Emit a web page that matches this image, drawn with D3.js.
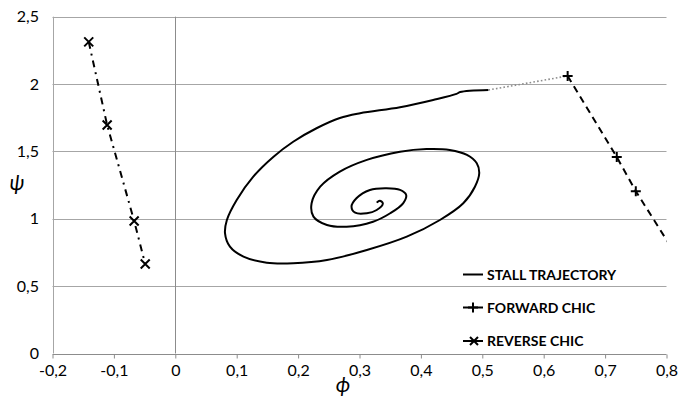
<!DOCTYPE html>
<html>
<head>
<meta charset="utf-8">
<script src="https://cdn.jsdelivr.net/npm/d3@7"></script>
<style>
  html, body { margin: 0; padding: 0; background: #fff; }
  svg { display: block; }
  text { font-family: Lato, "Open Sans", sans-serif; fill: #000; }
</style>
</head>
<body>
<svg id="chart" width="694" height="399"></svg>
<script>
// Stall trajectory in the (phi, psi) plane, spiralling into the equilibrium point
const stallPhi = [0.510, 0.464, 0.458, 0.420, 0.366, 0.301, 0.268, 0.230, 0.192, 0.160,
  0.127, 0.100, 0.084, 0.081, 0.089, 0.111, 0.149, 0.192, 0.247, 0.312,
  0.377, 0.431, 0.469, 0.488, 0.495, 0.491, 0.475, 0.447, 0.409, 0.366,
  0.312, 0.268, 0.236, 0.222, 0.225, 0.247, 0.279, 0.322, 0.350, 0.371,
  0.376, 0.366, 0.344, 0.317, 0.295, 0.287, 0.293, 0.312, 0.328, 0.338,
  0.333, 0.328];
const stallPsi = [1.956, 1.941, 1.927, 1.882, 1.828, 1.783, 1.748, 1.672, 1.572, 1.461,
  1.313, 1.140, 0.991, 0.892, 0.793, 0.719, 0.674, 0.670, 0.694, 0.768,
  0.867, 0.991, 1.115, 1.238, 1.338, 1.412, 1.474, 1.511, 1.518, 1.498,
  1.437, 1.350, 1.238, 1.115, 1.016, 0.954, 0.941, 0.978, 1.041, 1.115,
  1.177, 1.214, 1.226, 1.214, 1.152, 1.090, 1.045, 1.041, 1.065, 1.115,
  1.134, 1.120];

// Forward characteristic (last point lies past the axis end and is clipped)
const fwdPhi = [0.639, 0.719, 0.750, 0.815];
const fwdPsi = [2.060, 1.458, 1.205, 0.735];
const fwdMarked = [true, true, true, false];

// Reverse characteristic
const revPhi = [-0.141, -0.111, -0.067, -0.049];
const revPsi = [2.313, 1.696, 0.984, 0.664];

// Axis ticks
const xTicks = [-0.2, -0.1, 0, 0.1, 0.2, 0.3, 0.4, 0.5, 0.6, 0.7, 0.8];
const yTicks = [0, 0.5, 1, 1.5, 2, 2.5];

const legendLabels = ["STALL TRAJECTORY", "FORWARD CHIC", "REVERSE CHIC"];

const svg = d3.select("#chart");
const x = d3.scaleLinear().domain([-0.2, 0.8]).range([52.5, 666.5]);
const y = d3.scaleLinear().domain([0, 2.5]).range([353.5, 16.7]);
const fmt = v => String(v).replace(".", ",");

svg.append("defs").append("clipPath").attr("id", "plot")
  .append("rect").attr("x", x(-0.2)).attr("y", y(2.5) - 10)
  .attr("width", x(0.8) - x(-0.2)).attr("height", y(0) - y(2.5) + 10);

// Horizontal gridlines
svg.append("g").selectAll("line").data(yTicks.filter(d => d > 0)).join("line")
  .attr("x1", x(-0.2)).attr("x2", x(0.8))
  .attr("y1", d => Math.round(y(d)) + 0.5).attr("y2", d => Math.round(y(d)) + 0.5)
  .attr("stroke", "#a6a6a6").attr("stroke-width", 1);

// Left frame gridline
svg.append("line")
  .attr("x1", Math.round(x(-0.2)) + 0.5).attr("x2", Math.round(x(-0.2)) + 0.5)
  .attr("y1", y(2.5)).attr("y2", y(0))
  .attr("stroke", "#a6a6a6");

// Vertical axis at phi = 0
svg.append("line")
  .attr("x1", Math.round(x(0)) + 0.5).attr("x2", Math.round(x(0)) + 0.5)
  .attr("y1", y(2.5)).attr("y2", y(0))
  .attr("stroke", "#8c8c8c");

// Horizontal axis with outside ticks
const xAxis = d3.axisBottom(x).tickValues(xTicks).tickSize(4).tickPadding(6).tickFormat(fmt);
const gx = svg.append("g").attr("transform", `translate(0,${Math.round(y(0)) + 0.5})`).call(xAxis);
gx.select(".domain").attr("stroke", "#8c8c8c").attr("d", `M${x(-0.2)},0H${x(0.8)}`);
gx.selectAll(".tick line").attr("stroke", "#8c8c8c");
gx.selectAll(".tick text").attr("font-size", 16).attr("font-family", "Lato, sans-serif").attr("fill", "#000");

// Vertical axis labels on the left side
svg.append("g").selectAll("text").data(yTicks).join("text")
  .attr("x", 39).attr("y", d => y(d)).attr("dy", "0.35em")
  .attr("text-anchor", "end").attr("font-size", 16)
  .text(fmt);

// Axis titles
svg.append("text").attr("x", 343).attr("y", 392).attr("text-anchor", "middle")
  .attr("font-size", 21).attr("font-style", "italic")
  .attr("font-family", "'DejaVu Serif', serif").text("ϕ");
svg.append("text").attr("x", 17).attr("y", 190).attr("text-anchor", "middle")
  .attr("font-size", 21).attr("font-style", "italic")
  .attr("font-family", "'DejaVu Serif', serif").text("ψ");

const plot = svg.append("g").attr("clip-path", "url(#plot)");

// Stall trajectory
const stall = stallPhi.map((p, i) => [p, stallPsi[i]]);
plot.append("path").datum(stall)
  .attr("fill", "none").attr("stroke", "#000").attr("stroke-width", 2)
  .attr("stroke-linejoin", "round")
  .attr("d", d3.line().x(d => x(d[0])).y(d => y(d[1])).curve(d3.curveCatmullRom.alpha(0.5)));

// Dotted link from end of trajectory to the forward characteristic
plot.append("path").datum([stall[0], [fwdPhi[0], fwdPsi[0]]])
  .attr("fill", "none").attr("stroke", "#8c8c8c").attr("stroke-width", 1.6)
  .attr("stroke-dasharray", "1.6,2.2")
  .attr("d", d3.line().x(d => x(d[0])).y(d => y(d[1])));

// Forward characteristic
const fwd = fwdPhi.map((p, i) => [p, fwdPsi[i]]);
plot.append("path").datum(fwd)
  .attr("fill", "none").attr("stroke", "#000").attr("stroke-width", 2)
  .attr("stroke-dasharray", "7,5")
  .attr("d", d3.line().x(d => x(d[0])).y(d => y(d[1])));

// Reverse characteristic
const rev = revPhi.map((p, i) => [p, revPsi[i]]);
plot.append("path").datum(rev)
  .attr("fill", "none").attr("stroke", "#000").attr("stroke-width", 2)
  .attr("stroke-dasharray", "7,5,2,5")
  .attr("d", d3.line().x(d => x(d[0])).y(d => y(d[1])));

function plusMarker(g, cx, cy, s) {
  g.append("path").attr("d", `M${cx - s},${cy}H${cx + s}M${cx},${cy - s}V${cy + s}`)
    .attr("stroke", "#000").attr("stroke-width", 2).attr("fill", "none");
}
function crossMarker(g, cx, cy, s) {
  g.append("path").attr("d", `M${cx - s},${cy - s}L${cx + s},${cy + s}M${cx - s},${cy + s}L${cx + s},${cy - s}`)
    .attr("stroke", "#000").attr("stroke-width", 2).attr("fill", "none");
}

fwd.forEach((d, i) => { if (fwdMarked[i]) plusMarker(plot, x(d[0]), y(d[1]), 5); });
rev.forEach(d => crossMarker(svg, x(d[0]), y(d[1]), 4.5));

// Legend
const legendY = [274.5, 307.5, 341];
const leg = svg.append("g");
legendLabels.forEach((lab, i) => {
  const ly = legendY[i];
  leg.append("line").attr("x1", 463).attr("x2", 483).attr("y1", ly).attr("y2", ly)
    .attr("stroke", "#000").attr("stroke-width", 2);
  if (i === 1) plusMarker(leg, 473, ly, 5);
  if (i === 2) crossMarker(leg, 474, ly, 4);
  leg.append("text").attr("x", 487).attr("y", ly).attr("dy", "0.36em")
    .attr("font-size", 14).attr("font-weight", "bold").text(lab);
});
</script>
</body>
</html>
